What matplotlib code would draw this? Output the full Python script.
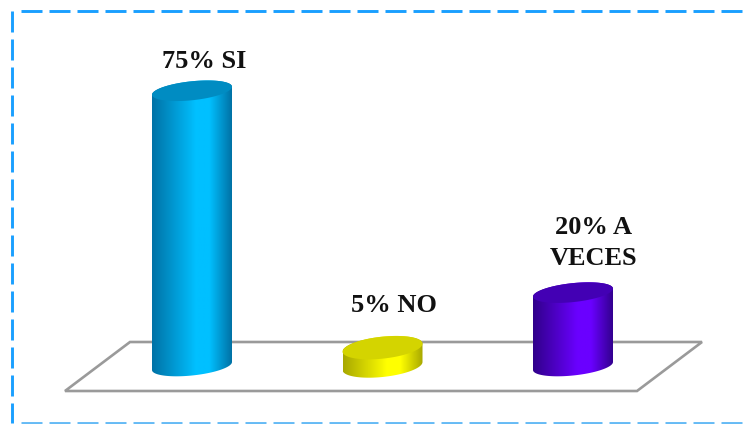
import numpy as np
import matplotlib
matplotlib.use("Agg")
import matplotlib.pyplot as plt
from matplotlib.colors import LinearSegmentedColormap
from matplotlib.patches import Polygon
from matplotlib.path import Path
from matplotlib.transforms import Affine2D

# Datos de la grafica
etiquetas = ["75% SI", "5% NO", "20% A\nVECES"]
valores = [75, 5, 20]
color_borde = ["#0072a6", "#a8a800", "#30008a"]
color_centro = ["#00c0ff", "#ffff00", "#6a00ff"]
color_tapa = ["#008cc2", "#d4d400", "#4300b4"]
semi_eje = [9.5, 11, 9.5]  # alto de la elipse en pixeles
desfase_x = [12, 11, 21]   # desfase de cada texto en pixeles
desfase_y = [18, 31, 23]

ANCHO, ALTO = 748, 424
PX_X = 190.5   # pixeles por categoria
PX_Y = 3.67    # pixeles por punto porcentual
X0, Y0 = 192, 366   # pixel donde esta la primera categoria en el valor 0

fig = plt.figure(figsize=(ANCHO / 100, ALTO / 100), dpi=100)
ax = fig.add_axes([0, 0, 1, 1])
ax.axis("off")
ax.set_xlim(-X0 / PX_X, (ANCHO - X0) / PX_X)
ax.set_ylim(-(ALTO - Y0) / PX_Y, Y0 / PX_Y)

# Transformacion para dibujar adornos en pixeles (origen arriba a la izquierda)
px = Affine2D().scale(1, -1).translate(0, ALTO)

# Piso gris
ax.add_patch(Polygon([(65, 391), (637, 391), (702, 342), (130, 342)], closed=True,
                     fill=False, edgecolor="#9a9a9a", linewidth=1.9, transform=px, zorder=1))


def elipse(cx, cy, b, t):
    # Elipse inclinada: a la derecha queda mas alta que a la izquierda
    a, pend = 40, 0.1
    x = cx + a * np.cos(t) / PX_X
    y = cy + (b * np.sin(t) + pend * a * np.cos(t)) / PX_Y
    return np.column_stack([x, y])


for i, v in enumerate(valores):
    # Cuerpo del cilindro con degradado
    abajo = elipse(i, 0, semi_eje[i], np.linspace(np.pi, 2 * np.pi, 60))
    arriba = elipse(i, v, semi_eje[i], np.linspace(0, np.pi, 60))
    contorno = np.vstack([abajo, arriba, abajo[:1]])
    mapa = LinearSegmentedColormap.from_list("c", [(0, color_borde[i]), (0.55, color_centro[i]),
                                                   (0.72, color_centro[i]), (1, color_borde[i])])
    grad = np.linspace(0, 1, 128).reshape(1, -1)
    im = ax.imshow(grad, cmap=mapa, aspect="auto", zorder=2,
                   extent=[i - 40 / PX_X, i + 40 / PX_X, -5, v + 5])
    im.set_clip_path(Path(contorno), transform=ax.transData)

    # Tapa superior
    ax.add_patch(Polygon(elipse(i, v, semi_eje[i], np.linspace(0, 2 * np.pi, 120)), closed=True,
                         facecolor=color_tapa[i], edgecolor="none", zorder=3))

    ax.annotate(etiquetas[i], (i, v), xytext=(desfase_x[i] * 0.72, desfase_y[i] * 0.72),
                textcoords="offset points", ha="center", va="bottom",
                family="Liberation Serif", fontweight="bold", fontsize=19,
                color="#111111", linespacing=1.42, zorder=4)

# Los limites no deben cambiar por imshow
ax.set_xlim(-X0 / PX_X, (ANCHO - X0) / PX_X)
ax.set_ylim(-(ALTO - Y0) / PX_Y, Y0 / PX_Y)

# Marco punteado azul
lw = 2.1
estilo = dict(color="#1a9fff", linewidth=lw, linestyle=(0, (21 / (lw / 0.72), 7 / (lw / 0.72))),
              transform=px, zorder=5, dash_capstyle="butt")
ax.plot([21, ANCHO], [11, 11], **estilo)
ax.plot([12, 12], [11, 423], **estilo)
ax.plot([21, ANCHO], [423, 423], **{**estilo, "color": "#66bbf5"})

fig.savefig("out.png", dpi=100, facecolor="white")
